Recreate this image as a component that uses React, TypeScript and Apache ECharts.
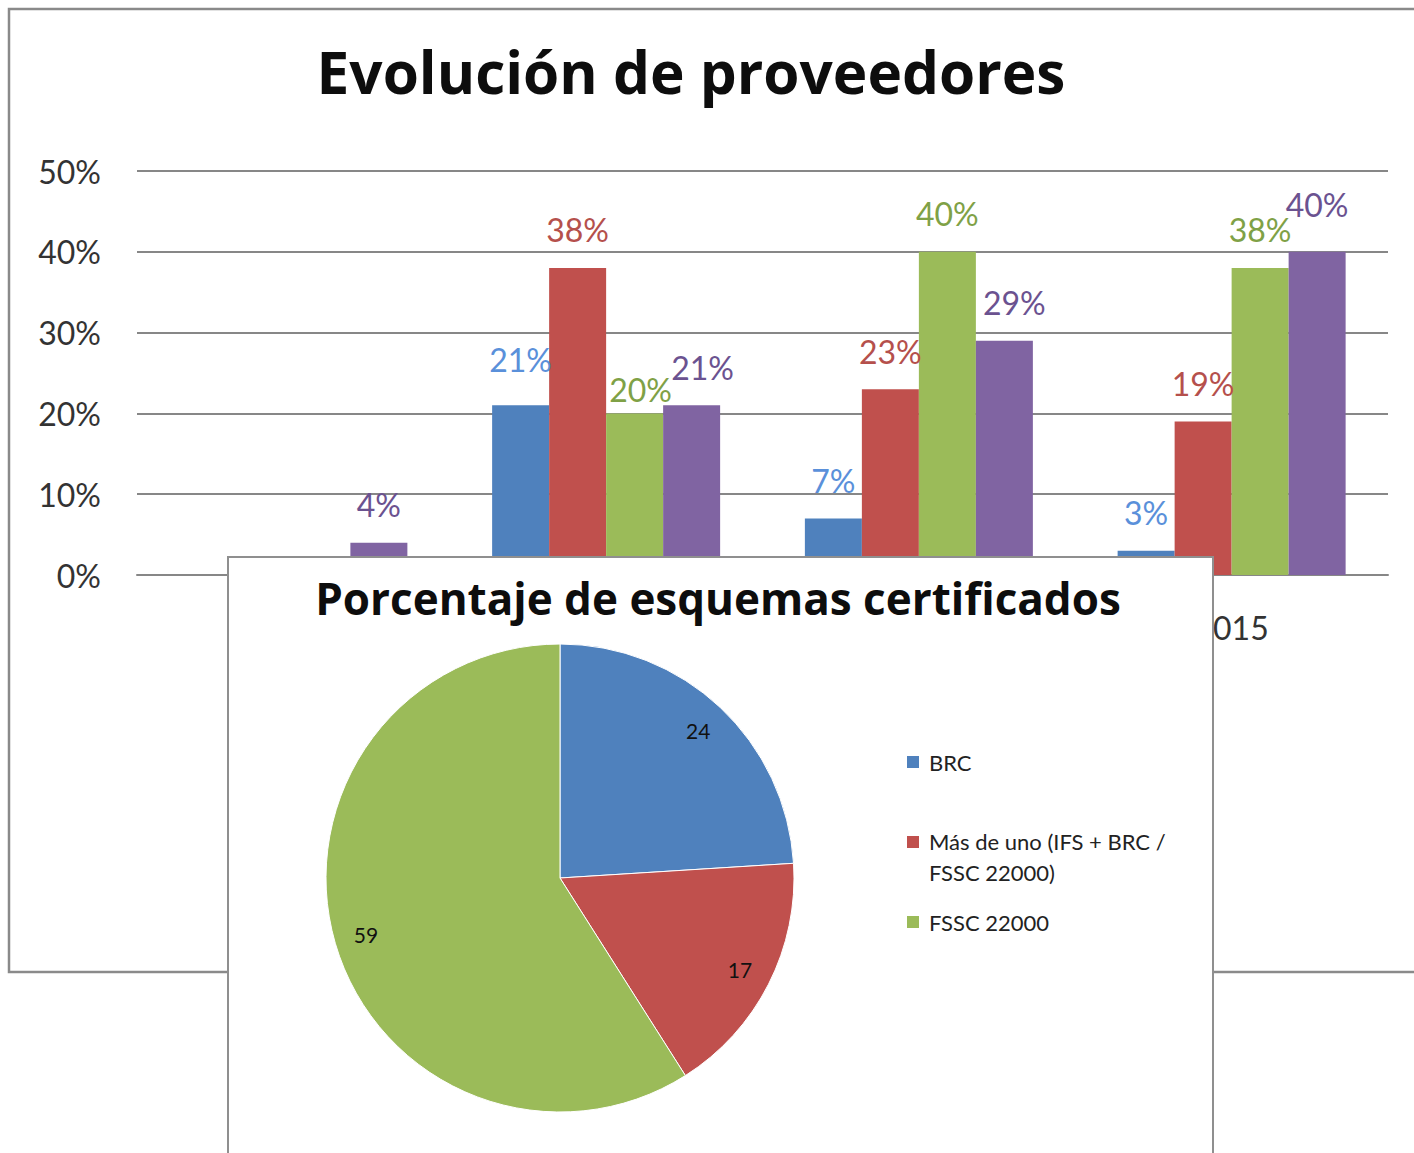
import React, { useEffect, useRef } from "react";
import * as echarts from "echarts";

const years = ["2012", "2013", "2014", "2015"];
const barSeriesNames = ["BRC", "IFS", "FSSC 22000", "Más de uno"];
const blueValues = [null, 21, 7, 3];
const redValues = [null, 38, 23, 19];
const greenValues = [null, 20, 40, 38];
const purpleValues = [4, 21, 29, 40];
const yTicks = [0, 10, 20, 30, 40, 50];

const pieNames = ["BRC", "Más de uno (IFS + BRC /\nFSSC 22000)", "FSSC 22000"];
const pieValues = [24, 17, 59];

// small label placement tweaks (series index, category index, dx, dy)
const labelNudges: [number, number, number, number][] = [
  [0, 1, 0, -8],
  [2, 1, 6, 14],
  [3, 1, 11, 0],
  [3, 2, 10, 0],
  [3, 3, 0, -9],
];

const barColors = ["#4F81BD", "#C0504D", "#9BBB59", "#8064A2"];
const labelColors = ["#5A90DA", "#B5504C", "#7FA146", "#6B5290"];
const FONT = "Lato, 'Open Sans', sans-serif";
const TITLE_FONT = "'Open Sans', Lato, sans-serif";

function BarChart() {
  const ref = useRef<HTMLDivElement>(null);
  useEffect(() => {
    const chart = echarts.init(ref.current!, null, { renderer: "svg" });
    const values = [blueValues, redValues, greenValues, purpleValues];
    chart.setOption({
      animation: false,
      backgroundColor: "#ffffff",
      title: {
        text: "Evolución de proveedores",
        left: 686,
        top: 36,
        textAlign: "center",
        textStyle: { fontFamily: TITLE_FONT, fontWeight: "bold", fontSize: 58.5, color: "#0d0d0d" },
      },
      graphic: [
        {
          type: "rect",
          shape: { x: 9, y: 9, width: 1500, height: 963 },
          style: { fill: "none", stroke: "#8a8a8a", lineWidth: 2.5 },
          silent: true,
        },
      ],
      grid: { left: 137, top: 171, width: 1251, height: 404 },
      xAxis: {
        type: "category",
        data: years,
        axisLine: { lineStyle: { color: "#878787", width: 2 } },
        axisTick: { show: false },
        axisLabel: { fontFamily: FONT, fontSize: 32, color: "#333", margin: 36 },
      },
      yAxis: {
        type: "value",
        min: yTicks[0],
        max: yTicks[yTicks.length - 1],
        interval: 10,
        axisLine: { show: false },
        axisTick: { show: false },
        axisLabel: { fontFamily: FONT, fontSize: 32, color: "#333", margin: 36, formatter: "{value}%" },
        splitLine: { lineStyle: { color: "#878787", width: 2 } },
      },
      series: values.map((v, i) => ({
        type: "bar",
        name: barSeriesNames[i],
        data: v.map((val, j) => {
          const n = labelNudges.find((q) => q[0] === i && q[1] === j);
          return n ? { value: val, label: { offset: [n[2], n[3]] } } : val;
        }),
        barWidth: 57,
        barGap: "0%",
        itemStyle: { color: barColors[i] },
        label: {
          show: true,
          position: "top",
          distance: 22,
          formatter: "{c}%",
          fontFamily: FONT,
          fontSize: 32,
          color: labelColors[i],
        },
      })),
    });
    return () => chart.dispose();
  }, []);
  return <div ref={ref} style={{ position: "absolute", left: 0, top: 0, width: 1414, height: 1153 }} />;
}

function PieChart() {
  const ref = useRef<HTMLDivElement>(null);
  useEffect(() => {
    const chart = echarts.init(ref.current!, null, { renderer: "svg" });
    const data = pieNames.map((n, i) => ({ name: n, value: pieValues[i] }));
    const legendText = { fontFamily: FONT, fontSize: 22, color: "#222", lineHeight: 31, padding: [0, 0, 0, 4] };
    const legendBase = {
      left: 676,
      orient: "vertical",
      padding: 0,
      itemWidth: 14,
      textStyle: legendText,
      selectedMode: false,
    };
    chart.setOption({
      animation: false,
      backgroundColor: "#ffffff",
      color: barColors.slice(0, 3),
      title: {
        text: "Porcentaje de esquemas certificados",
        left: 484,
        top: 13,
        textAlign: "center",
        textStyle: { fontFamily: TITLE_FONT, fontWeight: "bold", fontSize: 44, color: "#0d0d0d" },
      },
      legend: [
        { ...legendBase, data: [pieNames[0]], top: 188.5, icon: "rect", itemHeight: 14 },
        { ...legendBase, data: [pieNames[1]], top: 268, icon: "path://M0,0L14,0L14,14L0,14ZM0,44L0,44", itemHeight: 44 },
        { ...legendBase, data: [pieNames[2]], top: 348.5, icon: "rect", itemHeight: 14 },
      ],
      series: [
        {
          type: "pie",
          center: [331, 320],
          radius: [0, 234],
          startAngle: 90,
          clockwise: true,
          data,
          label: { show: false },
          labelLine: { show: false },
          itemStyle: { borderColor: "#ffffff", borderWidth: 1 },
          emphasis: { disabled: true },
        },
        {
          type: "pie",
          center: [331, 320],
          radius: [164, 234],
          startAngle: 90,
          clockwise: true,
          silent: true,
          data,
          itemStyle: { color: "rgba(0,0,0,0)" },
          label: { show: true, position: "inside", formatter: "{c}", fontFamily: FONT, fontSize: 21, color: "#111" },
          labelLine: { show: false },
          emphasis: { disabled: true },
        },
      ],
    });
    return () => chart.dispose();
  }, []);
  return (
    <div
      style={{
        position: "absolute",
        left: 227,
        top: 556,
        width: 983,
        height: 620,
        borderLeft: "2px solid #8f8f8f",
        borderTop: "2px solid #8f8f8f",
        borderRight: "2px solid #8f8f8f",
        background: "#fff",
      }}
    >
      <div ref={ref} style={{ width: 983, height: 620 }} />
    </div>
  );
}

export default function App() {
  return (
    <div style={{ position: "absolute", left: 0, top: 0, width: 1414, height: 1153, overflow: "hidden", background: "#fff" }}>
      <BarChart />
      <PieChart />
    </div>
  );
}
